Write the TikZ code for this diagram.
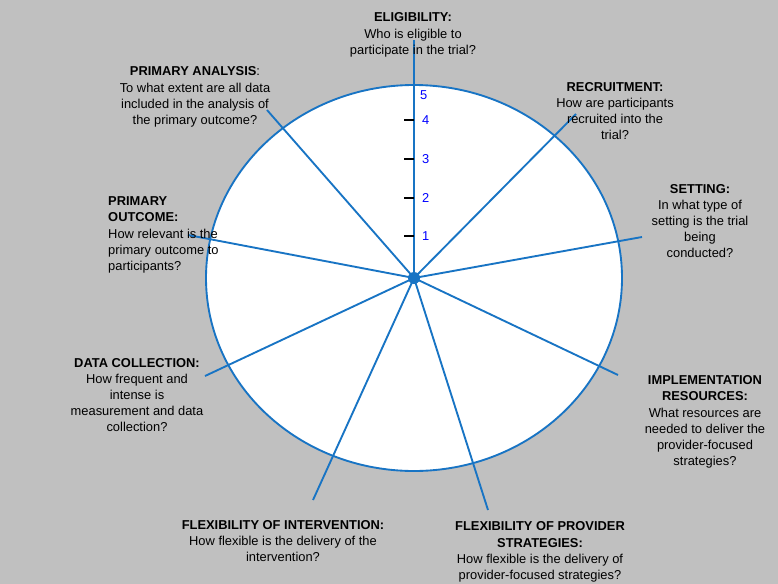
\documentclass[tikz,border=0pt]{standalone}
\usepackage{fontspec}
\setmainfont{Liberation Sans}
\usetikzlibrary{positioning}
\definecolor{spoke}{HTML}{1874C4}
\definecolor{bg}{HTML}{C0C0C0}
\tikzset{
  label/.style={font=\fontsize{11}{13.8}\selectfont, align=center, inner sep=0pt},
  spokeline/.style={spoke, line width=1.6pt},
  tickline/.style={black, line width=1.6pt},
  num/.style={blue, font=\fontsize{11}{12}\selectfont, inner sep=0pt}
}
\begin{document}
\begin{tikzpicture}[x=0.03cm, y=-0.03cm]
  % Background
  \fill[bg] (0,0) rectangle (778,584);
  \useasboundingbox (0,0) rectangle (778,584);
  % Wheel
  \filldraw[fill=white, draw=spoke, line width=1.6pt] (414,278) ellipse (208 and 193);
  \node (hub) at (414,278) {};
  % Spoke ends
  \coordinate (elig) at (414,40);
  \coordinate (recr) at (576,114);
  \coordinate (sett) at (642,237);
  \coordinate (impl) at (618,375);
  \coordinate (prov) at (488,510);
  \coordinate (intv) at (313,500);
  \coordinate (data) at (205,376);
  \coordinate (outc) at (188,235);
  \coordinate (anal) at (267,110);
  \foreach \e in {elig,recr,sett,impl,prov,intv,data,outc,anal}
    \draw[spokeline] (hub.center) -- (\e);
  \fill[spoke] (hub.center) circle (6);
  % Scale
  \foreach \i/\y in {1/236,2/198,3/159,4/120} {
    \draw[tickline] (404,\y) -- (414,\y);
    \node[num, right] (n\i) at (422,\y) {\i};
  }
  \node[num, right] (n5) at (420,95) {5};
  % Labels
  \node[label] (teli) at (413,35) {\textbf{ELIGIBILITY:}\\Who is eligible to\\participate in the trial?};
  \node[label] (trec) at (615,111) {\textbf{RECRUITMENT:}\\How are participants\\recruited into the\\trial?};
  \node[label] (tset) at (700,221) {\textbf{SETTING:}\\In what type of\\setting is the trial\\being\\conducted?};
  \node[label] (timp) at (705,422) {\textbf{IMPLEMENTATION}\\\textbf{RESOURCES:}\\What resources are\\needed to deliver the\\provider-focused\\strategies?};
  \node[label] (tpro) at (540,552) {\textbf{FLEXIBILITY OF PROVIDER}\\\textbf{STRATEGIES:}\\How flexible is the delivery of\\provider-focused strategies?};
  \node[label] (tint) at (283,541) {\textbf{FLEXIBILITY OF INTERVENTION:}\\How flexible is the delivery of the\\intervention?};
  \node[label] (tdat) at (137,395) {\textbf{DATA COLLECTION:}\\How frequent and\\intense is\\measurement and data\\collection?};
  \node[label, align=left, anchor=west] (tout) at (108,235) {\textbf{PRIMARY}\\\textbf{OUTCOME:}\\How relevant is the\\primary outcome to\\participants?};
  \node[label] (tana) at (195,97) {\textbf{PRIMARY ANALYSIS}:\\To what extent are all data\\included in the analysis of\\the primary outcome?};
\end{tikzpicture}
\end{document}
